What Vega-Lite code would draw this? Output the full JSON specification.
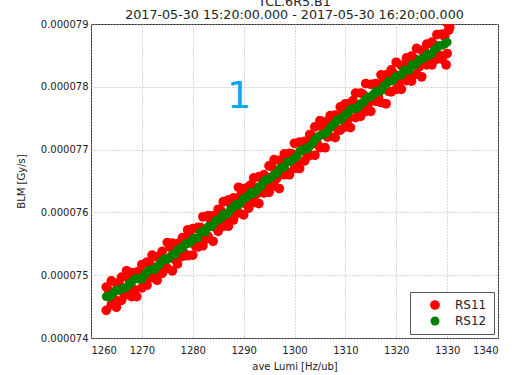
{
  "$schema": "https://vega.github.io/schema/vega-lite/v6.json",
  "autosize": "none",
  "width": 407,
  "height": 314,
  "padding": {"left": 91, "top": 24, "right": 14, "bottom": 37},
  "background": "white",
  "title": {
    "text": "TCL.6R5.B1",
    "subtitle": "2017-05-30 15:20:00.000 - 2017-05-30 16:20:00.000",
    "font": "DejaVu Sans",
    "subtitleFont": "DejaVu Sans",
    "fontSize": 12.7,
    "fontWeight": "normal",
    "subtitleFontSize": 12.7,
    "color": "#222",
    "subtitleColor": "#222",
    "subtitlePadding": 1,
    "offset": -3,
    "anchor": "middle",
    "frame": "group"
  },
  "config": {
    "view": {"stroke": "#222", "strokeWidth": 1},
    "axis": {
      "labelFont": "DejaVu Sans",
      "titleFont": "DejaVu Sans",
      "labelFontSize": 10,
      "titleFontSize": 10,
      "titleFontWeight": "normal",
      "labelColor": "#222",
      "titleColor": "#222",
      "grid": true,
      "gridColor": "#b0b0b0",
      "gridDash": [1, 2],
      "ticks": false,
      "domain": false,
      "labelPadding": 3
    }
  },
  "data": {
    "values": [
      {"lumi": 1263, "blm": 0.00007481, "series": "RS11"},
      {"lumi": 1263, "blm": 0.00007444, "series": "RS11"},
      {"lumi": 1264, "blm": 0.00007491, "series": "RS11"},
      {"lumi": 1264, "blm": 0.00007453, "series": "RS11"},
      {"lumi": 1265, "blm": 0.00007487, "series": "RS11"},
      {"lumi": 1265, "blm": 0.00007449, "series": "RS11"},
      {"lumi": 1266, "blm": 0.00007497, "series": "RS11"},
      {"lumi": 1266, "blm": 0.00007460, "series": "RS11"},
      {"lumi": 1267, "blm": 0.00007507, "series": "RS11"},
      {"lumi": 1267, "blm": 0.00007469, "series": "RS11"},
      {"lumi": 1268, "blm": 0.00007504, "series": "RS11"},
      {"lumi": 1268, "blm": 0.00007466, "series": "RS11"},
      {"lumi": 1269, "blm": 0.00007505, "series": "RS11"},
      {"lumi": 1269, "blm": 0.00007466, "series": "RS11"},
      {"lumi": 1270, "blm": 0.00007517, "series": "RS11"},
      {"lumi": 1270, "blm": 0.00007480, "series": "RS11"},
      {"lumi": 1271, "blm": 0.00007521, "series": "RS11"},
      {"lumi": 1271, "blm": 0.00007484, "series": "RS11"},
      {"lumi": 1272, "blm": 0.00007532, "series": "RS11"},
      {"lumi": 1272, "blm": 0.00007496, "series": "RS11"},
      {"lumi": 1273, "blm": 0.00007529, "series": "RS11"},
      {"lumi": 1273, "blm": 0.00007492, "series": "RS11"},
      {"lumi": 1274, "blm": 0.00007538, "series": "RS11"},
      {"lumi": 1274, "blm": 0.00007503, "series": "RS11"},
      {"lumi": 1275, "blm": 0.00007552, "series": "RS11"},
      {"lumi": 1275, "blm": 0.00007511, "series": "RS11"},
      {"lumi": 1276, "blm": 0.00007551, "series": "RS11"},
      {"lumi": 1276, "blm": 0.00007507, "series": "RS11"},
      {"lumi": 1277, "blm": 0.00007550, "series": "RS11"},
      {"lumi": 1277, "blm": 0.00007518, "series": "RS11"},
      {"lumi": 1278, "blm": 0.00007560, "series": "RS11"},
      {"lumi": 1278, "blm": 0.00007530, "series": "RS11"},
      {"lumi": 1279, "blm": 0.00007572, "series": "RS11"},
      {"lumi": 1279, "blm": 0.00007531, "series": "RS11"},
      {"lumi": 1280, "blm": 0.00007574, "series": "RS11"},
      {"lumi": 1280, "blm": 0.00007532, "series": "RS11"},
      {"lumi": 1281, "blm": 0.00007576, "series": "RS11"},
      {"lumi": 1281, "blm": 0.00007545, "series": "RS11"},
      {"lumi": 1282, "blm": 0.00007593, "series": "RS11"},
      {"lumi": 1282, "blm": 0.00007547, "series": "RS11"},
      {"lumi": 1283, "blm": 0.00007595, "series": "RS11"},
      {"lumi": 1283, "blm": 0.00007562, "series": "RS11"},
      {"lumi": 1284, "blm": 0.00007595, "series": "RS11"},
      {"lumi": 1284, "blm": 0.00007554, "series": "RS11"},
      {"lumi": 1285, "blm": 0.00007605, "series": "RS11"},
      {"lumi": 1285, "blm": 0.00007570, "series": "RS11"},
      {"lumi": 1286, "blm": 0.00007617, "series": "RS11"},
      {"lumi": 1286, "blm": 0.00007578, "series": "RS11"},
      {"lumi": 1287, "blm": 0.00007620, "series": "RS11"},
      {"lumi": 1287, "blm": 0.00007578, "series": "RS11"},
      {"lumi": 1288, "blm": 0.00007623, "series": "RS11"},
      {"lumi": 1288, "blm": 0.00007588, "series": "RS11"},
      {"lumi": 1289, "blm": 0.00007640, "series": "RS11"},
      {"lumi": 1289, "blm": 0.00007600, "series": "RS11"},
      {"lumi": 1290, "blm": 0.00007638, "series": "RS11"},
      {"lumi": 1290, "blm": 0.00007596, "series": "RS11"},
      {"lumi": 1291, "blm": 0.00007641, "series": "RS11"},
      {"lumi": 1291, "blm": 0.00007607, "series": "RS11"},
      {"lumi": 1292, "blm": 0.00007655, "series": "RS11"},
      {"lumi": 1292, "blm": 0.00007616, "series": "RS11"},
      {"lumi": 1293, "blm": 0.00007657, "series": "RS11"},
      {"lumi": 1293, "blm": 0.00007614, "series": "RS11"},
      {"lumi": 1294, "blm": 0.00007660, "series": "RS11"},
      {"lumi": 1294, "blm": 0.00007631, "series": "RS11"},
      {"lumi": 1295, "blm": 0.00007674, "series": "RS11"},
      {"lumi": 1295, "blm": 0.00007632, "series": "RS11"},
      {"lumi": 1296, "blm": 0.00007684, "series": "RS11"},
      {"lumi": 1296, "blm": 0.00007642, "series": "RS11"},
      {"lumi": 1297, "blm": 0.00007683, "series": "RS11"},
      {"lumi": 1297, "blm": 0.00007638, "series": "RS11"},
      {"lumi": 1298, "blm": 0.00007693, "series": "RS11"},
      {"lumi": 1298, "blm": 0.00007660, "series": "RS11"},
      {"lumi": 1299, "blm": 0.00007694, "series": "RS11"},
      {"lumi": 1299, "blm": 0.00007660, "series": "RS11"},
      {"lumi": 1300, "blm": 0.00007710, "series": "RS11"},
      {"lumi": 1300, "blm": 0.00007670, "series": "RS11"},
      {"lumi": 1301, "blm": 0.00007712, "series": "RS11"},
      {"lumi": 1301, "blm": 0.00007670, "series": "RS11"},
      {"lumi": 1302, "blm": 0.00007713, "series": "RS11"},
      {"lumi": 1302, "blm": 0.00007682, "series": "RS11"},
      {"lumi": 1303, "blm": 0.00007724, "series": "RS11"},
      {"lumi": 1303, "blm": 0.00007691, "series": "RS11"},
      {"lumi": 1304, "blm": 0.00007736, "series": "RS11"},
      {"lumi": 1304, "blm": 0.00007691, "series": "RS11"},
      {"lumi": 1305, "blm": 0.00007746, "series": "RS11"},
      {"lumi": 1305, "blm": 0.00007703, "series": "RS11"},
      {"lumi": 1306, "blm": 0.00007744, "series": "RS11"},
      {"lumi": 1306, "blm": 0.00007703, "series": "RS11"},
      {"lumi": 1307, "blm": 0.00007754, "series": "RS11"},
      {"lumi": 1307, "blm": 0.00007721, "series": "RS11"},
      {"lumi": 1308, "blm": 0.00007755, "series": "RS11"},
      {"lumi": 1308, "blm": 0.00007719, "series": "RS11"},
      {"lumi": 1309, "blm": 0.00007768, "series": "RS11"},
      {"lumi": 1309, "blm": 0.00007731, "series": "RS11"},
      {"lumi": 1310, "blm": 0.00007773, "series": "RS11"},
      {"lumi": 1310, "blm": 0.00007736, "series": "RS11"},
      {"lumi": 1311, "blm": 0.00007774, "series": "RS11"},
      {"lumi": 1311, "blm": 0.00007735, "series": "RS11"},
      {"lumi": 1312, "blm": 0.00007790, "series": "RS11"},
      {"lumi": 1312, "blm": 0.00007751, "series": "RS11"},
      {"lumi": 1313, "blm": 0.00007790, "series": "RS11"},
      {"lumi": 1313, "blm": 0.00007753, "series": "RS11"},
      {"lumi": 1314, "blm": 0.00007805, "series": "RS11"},
      {"lumi": 1314, "blm": 0.00007761, "series": "RS11"},
      {"lumi": 1315, "blm": 0.00007804, "series": "RS11"},
      {"lumi": 1315, "blm": 0.00007761, "series": "RS11"},
      {"lumi": 1316, "blm": 0.00007805, "series": "RS11"},
      {"lumi": 1316, "blm": 0.00007777, "series": "RS11"},
      {"lumi": 1317, "blm": 0.00007819, "series": "RS11"},
      {"lumi": 1317, "blm": 0.00007775, "series": "RS11"},
      {"lumi": 1318, "blm": 0.00007819, "series": "RS11"},
      {"lumi": 1318, "blm": 0.00007773, "series": "RS11"},
      {"lumi": 1319, "blm": 0.00007827, "series": "RS11"},
      {"lumi": 1319, "blm": 0.00007792, "series": "RS11"},
      {"lumi": 1320, "blm": 0.00007839, "series": "RS11"},
      {"lumi": 1320, "blm": 0.00007796, "series": "RS11"},
      {"lumi": 1321, "blm": 0.00007834, "series": "RS11"},
      {"lumi": 1321, "blm": 0.00007796, "series": "RS11"},
      {"lumi": 1322, "blm": 0.00007846, "series": "RS11"},
      {"lumi": 1322, "blm": 0.00007810, "series": "RS11"},
      {"lumi": 1323, "blm": 0.00007849, "series": "RS11"},
      {"lumi": 1323, "blm": 0.00007809, "series": "RS11"},
      {"lumi": 1324, "blm": 0.00007861, "series": "RS11"},
      {"lumi": 1324, "blm": 0.00007820, "series": "RS11"},
      {"lumi": 1325, "blm": 0.00007858, "series": "RS11"},
      {"lumi": 1325, "blm": 0.00007816, "series": "RS11"},
      {"lumi": 1326, "blm": 0.00007868, "series": "RS11"},
      {"lumi": 1326, "blm": 0.00007835, "series": "RS11"},
      {"lumi": 1327, "blm": 0.00007871, "series": "RS11"},
      {"lumi": 1327, "blm": 0.00007835, "series": "RS11"},
      {"lumi": 1328, "blm": 0.00007883, "series": "RS11"},
      {"lumi": 1328, "blm": 0.00007844, "series": "RS11"},
      {"lumi": 1329, "blm": 0.00007884, "series": "RS11"},
      {"lumi": 1329, "blm": 0.00007844, "series": "RS11"},
      {"lumi": 1330, "blm": 0.00007902, "series": "RS11"},
      {"lumi": 1330, "blm": 0.00007853, "series": "RS11"},
      {"lumi": 1330.3, "blm": 0.00007890, "series": "RS11"},
      {"lumi": 1330.5, "blm": 0.00007895, "series": "RS11"},
      {"lumi": 1329.8, "blm": 0.00007835, "series": "RS11"},
      {"lumi": 1263.5, "blm": 0.00007476, "series": "RS11"},
      {"lumi": 1264.5, "blm": 0.00007462, "series": "RS11"},
      {"lumi": 1265.5, "blm": 0.00007488, "series": "RS11"},
      {"lumi": 1266.5, "blm": 0.00007470, "series": "RS11"},
      {"lumi": 1267.5, "blm": 0.00007493, "series": "RS11"},
      {"lumi": 1268.5, "blm": 0.00007477, "series": "RS11"},
      {"lumi": 1269.5, "blm": 0.00007506, "series": "RS11"},
      {"lumi": 1270.5, "blm": 0.00007490, "series": "RS11"},
      {"lumi": 1271.5, "blm": 0.00007520, "series": "RS11"},
      {"lumi": 1272.5, "blm": 0.00007504, "series": "RS11"},
      {"lumi": 1273.5, "blm": 0.00007530, "series": "RS11"},
      {"lumi": 1274.5, "blm": 0.00007515, "series": "RS11"},
      {"lumi": 1275.5, "blm": 0.00007545, "series": "RS11"},
      {"lumi": 1276.5, "blm": 0.00007525, "series": "RS11"},
      {"lumi": 1277.5, "blm": 0.00007552, "series": "RS11"},
      {"lumi": 1278.5, "blm": 0.00007534, "series": "RS11"},
      {"lumi": 1279.5, "blm": 0.00007562, "series": "RS11"},
      {"lumi": 1280.5, "blm": 0.00007547, "series": "RS11"},
      {"lumi": 1281.5, "blm": 0.00007576, "series": "RS11"},
      {"lumi": 1282.5, "blm": 0.00007557, "series": "RS11"},
      {"lumi": 1283.5, "blm": 0.00007588, "series": "RS11"},
      {"lumi": 1284.5, "blm": 0.00007576, "series": "RS11"},
      {"lumi": 1285.5, "blm": 0.00007603, "series": "RS11"},
      {"lumi": 1286.5, "blm": 0.00007587, "series": "RS11"},
      {"lumi": 1287.5, "blm": 0.00007612, "series": "RS11"},
      {"lumi": 1288.5, "blm": 0.00007597, "series": "RS11"},
      {"lumi": 1289.5, "blm": 0.00007628, "series": "RS11"},
      {"lumi": 1290.5, "blm": 0.00007613, "series": "RS11"},
      {"lumi": 1291.5, "blm": 0.00007644, "series": "RS11"},
      {"lumi": 1292.5, "blm": 0.00007629, "series": "RS11"},
      {"lumi": 1293.5, "blm": 0.00007655, "series": "RS11"},
      {"lumi": 1294.5, "blm": 0.00007641, "series": "RS11"},
      {"lumi": 1295.5, "blm": 0.00007673, "series": "RS11"},
      {"lumi": 1296.5, "blm": 0.00007654, "series": "RS11"},
      {"lumi": 1297.5, "blm": 0.00007681, "series": "RS11"},
      {"lumi": 1298.5, "blm": 0.00007664, "series": "RS11"},
      {"lumi": 1299.5, "blm": 0.00007693, "series": "RS11"},
      {"lumi": 1300.5, "blm": 0.00007678, "series": "RS11"},
      {"lumi": 1301.5, "blm": 0.00007707, "series": "RS11"},
      {"lumi": 1302.5, "blm": 0.00007689, "series": "RS11"},
      {"lumi": 1303.5, "blm": 0.00007721, "series": "RS11"},
      {"lumi": 1304.5, "blm": 0.00007709, "series": "RS11"},
      {"lumi": 1305.5, "blm": 0.00007736, "series": "RS11"},
      {"lumi": 1306.5, "blm": 0.00007720, "series": "RS11"},
      {"lumi": 1307.5, "blm": 0.00007746, "series": "RS11"},
      {"lumi": 1308.5, "blm": 0.00007732, "series": "RS11"},
      {"lumi": 1309.5, "blm": 0.00007763, "series": "RS11"},
      {"lumi": 1310.5, "blm": 0.00007748, "series": "RS11"},
      {"lumi": 1311.5, "blm": 0.00007778, "series": "RS11"},
      {"lumi": 1312.5, "blm": 0.00007762, "series": "RS11"},
      {"lumi": 1313.5, "blm": 0.00007788, "series": "RS11"},
      {"lumi": 1314.5, "blm": 0.00007773, "series": "RS11"},
      {"lumi": 1315.5, "blm": 0.00007804, "series": "RS11"},
      {"lumi": 1316.5, "blm": 0.00007784, "series": "RS11"},
      {"lumi": 1317.5, "blm": 0.00007811, "series": "RS11"},
      {"lumi": 1318.5, "blm": 0.00007793, "series": "RS11"},
      {"lumi": 1319.5, "blm": 0.00007821, "series": "RS11"},
      {"lumi": 1320.5, "blm": 0.00007806, "series": "RS11"},
      {"lumi": 1321.5, "blm": 0.00007834, "series": "RS11"},
      {"lumi": 1322.5, "blm": 0.00007814, "series": "RS11"},
      {"lumi": 1323.5, "blm": 0.00007845, "series": "RS11"},
      {"lumi": 1324.5, "blm": 0.00007832, "series": "RS11"},
      {"lumi": 1325.5, "blm": 0.00007858, "series": "RS11"},
      {"lumi": 1326.5, "blm": 0.00007841, "series": "RS11"},
      {"lumi": 1327.5, "blm": 0.00007866, "series": "RS11"},
      {"lumi": 1328.5, "blm": 0.00007850, "series": "RS11"},
      {"lumi": 1329.5, "blm": 0.00007880, "series": "RS11"},
      {"lumi": 1263, "blm": 0.00007466, "series": "RS12"},
      {"lumi": 1264, "blm": 0.00007468, "series": "RS12"},
      {"lumi": 1265, "blm": 0.00007476, "series": "RS12"},
      {"lumi": 1266, "blm": 0.00007478, "series": "RS12"},
      {"lumi": 1267, "blm": 0.00007481, "series": "RS12"},
      {"lumi": 1268, "blm": 0.00007489, "series": "RS12"},
      {"lumi": 1269, "blm": 0.00007495, "series": "RS12"},
      {"lumi": 1270, "blm": 0.00007494, "series": "RS12"},
      {"lumi": 1271, "blm": 0.00007505, "series": "RS12"},
      {"lumi": 1272, "blm": 0.00007509, "series": "RS12"},
      {"lumi": 1273, "blm": 0.00007514, "series": "RS12"},
      {"lumi": 1274, "blm": 0.00007523, "series": "RS12"},
      {"lumi": 1275, "blm": 0.00007525, "series": "RS12"},
      {"lumi": 1276, "blm": 0.00007533, "series": "RS12"},
      {"lumi": 1277, "blm": 0.00007541, "series": "RS12"},
      {"lumi": 1278, "blm": 0.00007543, "series": "RS12"},
      {"lumi": 1279, "blm": 0.00007550, "series": "RS12"},
      {"lumi": 1280, "blm": 0.00007558, "series": "RS12"},
      {"lumi": 1281, "blm": 0.00007559, "series": "RS12"},
      {"lumi": 1282, "blm": 0.00007570, "series": "RS12"},
      {"lumi": 1283, "blm": 0.00007577, "series": "RS12"},
      {"lumi": 1284, "blm": 0.00007580, "series": "RS12"},
      {"lumi": 1285, "blm": 0.00007588, "series": "RS12"},
      {"lumi": 1286, "blm": 0.00007597, "series": "RS12"},
      {"lumi": 1287, "blm": 0.00007600, "series": "RS12"},
      {"lumi": 1288, "blm": 0.00007608, "series": "RS12"},
      {"lumi": 1289, "blm": 0.00007612, "series": "RS12"},
      {"lumi": 1290, "blm": 0.00007622, "series": "RS12"},
      {"lumi": 1291, "blm": 0.00007627, "series": "RS12"},
      {"lumi": 1292, "blm": 0.00007630, "series": "RS12"},
      {"lumi": 1293, "blm": 0.00007641, "series": "RS12"},
      {"lumi": 1294, "blm": 0.00007650, "series": "RS12"},
      {"lumi": 1295, "blm": 0.00007653, "series": "RS12"},
      {"lumi": 1296, "blm": 0.00007660, "series": "RS12"},
      {"lumi": 1297, "blm": 0.00007669, "series": "RS12"},
      {"lumi": 1298, "blm": 0.00007672, "series": "RS12"},
      {"lumi": 1299, "blm": 0.00007681, "series": "RS12"},
      {"lumi": 1300, "blm": 0.00007686, "series": "RS12"},
      {"lumi": 1301, "blm": 0.00007697, "series": "RS12"},
      {"lumi": 1302, "blm": 0.00007701, "series": "RS12"},
      {"lumi": 1303, "blm": 0.00007705, "series": "RS12"},
      {"lumi": 1304, "blm": 0.00007716, "series": "RS12"},
      {"lumi": 1305, "blm": 0.00007722, "series": "RS12"},
      {"lumi": 1306, "blm": 0.00007725, "series": "RS12"},
      {"lumi": 1307, "blm": 0.00007735, "series": "RS12"},
      {"lumi": 1308, "blm": 0.00007743, "series": "RS12"},
      {"lumi": 1309, "blm": 0.00007747, "series": "RS12"},
      {"lumi": 1310, "blm": 0.00007756, "series": "RS12"},
      {"lumi": 1311, "blm": 0.00007764, "series": "RS12"},
      {"lumi": 1312, "blm": 0.00007765, "series": "RS12"},
      {"lumi": 1313, "blm": 0.00007773, "series": "RS12"},
      {"lumi": 1314, "blm": 0.00007780, "series": "RS12"},
      {"lumi": 1315, "blm": 0.00007784, "series": "RS12"},
      {"lumi": 1316, "blm": 0.00007793, "series": "RS12"},
      {"lumi": 1317, "blm": 0.00007794, "series": "RS12"},
      {"lumi": 1318, "blm": 0.00007804, "series": "RS12"},
      {"lumi": 1319, "blm": 0.00007809, "series": "RS12"},
      {"lumi": 1320, "blm": 0.00007817, "series": "RS12"},
      {"lumi": 1321, "blm": 0.00007819, "series": "RS12"},
      {"lumi": 1322, "blm": 0.00007827, "series": "RS12"},
      {"lumi": 1323, "blm": 0.00007835, "series": "RS12"},
      {"lumi": 1324, "blm": 0.00007837, "series": "RS12"},
      {"lumi": 1325, "blm": 0.00007844, "series": "RS12"},
      {"lumi": 1326, "blm": 0.00007851, "series": "RS12"},
      {"lumi": 1327, "blm": 0.00007853, "series": "RS12"},
      {"lumi": 1328, "blm": 0.00007862, "series": "RS12"},
      {"lumi": 1329, "blm": 0.00007866, "series": "RS12"},
      {"lumi": 1330, "blm": 0.00007871, "series": "RS12"},
      {"lumi": 1263.5, "blm": 0.00007465, "series": "RS12"},
      {"lumi": 1264.5, "blm": 0.00007473, "series": "RS12"},
      {"lumi": 1265.5, "blm": 0.00007476, "series": "RS12"},
      {"lumi": 1266.5, "blm": 0.00007479, "series": "RS12"},
      {"lumi": 1267.5, "blm": 0.00007486, "series": "RS12"},
      {"lumi": 1268.5, "blm": 0.00007493, "series": "RS12"},
      {"lumi": 1269.5, "blm": 0.00007494, "series": "RS12"},
      {"lumi": 1270.5, "blm": 0.00007500, "series": "RS12"},
      {"lumi": 1271.5, "blm": 0.00007508, "series": "RS12"},
      {"lumi": 1272.5, "blm": 0.00007509, "series": "RS12"},
      {"lumi": 1273.5, "blm": 0.00007517, "series": "RS12"},
      {"lumi": 1274.5, "blm": 0.00007526, "series": "RS12"},
      {"lumi": 1275.5, "blm": 0.00007529, "series": "RS12"},
      {"lumi": 1276.5, "blm": 0.00007533, "series": "RS12"},
      {"lumi": 1277.5, "blm": 0.00007542, "series": "RS12"},
      {"lumi": 1278.5, "blm": 0.00007550, "series": "RS12"},
      {"lumi": 1279.5, "blm": 0.00007552, "series": "RS12"},
      {"lumi": 1280.5, "blm": 0.00007559, "series": "RS12"},
      {"lumi": 1281.5, "blm": 0.00007568, "series": "RS12"},
      {"lumi": 1282.5, "blm": 0.00007569, "series": "RS12"},
      {"lumi": 1283.5, "blm": 0.00007577, "series": "RS12"},
      {"lumi": 1284.5, "blm": 0.00007587, "series": "RS12"},
      {"lumi": 1285.5, "blm": 0.00007591, "series": "RS12"},
      {"lumi": 1286.5, "blm": 0.00007596, "series": "RS12"},
      {"lumi": 1287.5, "blm": 0.00007605, "series": "RS12"},
      {"lumi": 1288.5, "blm": 0.00007613, "series": "RS12"},
      {"lumi": 1289.5, "blm": 0.00007616, "series": "RS12"},
      {"lumi": 1290.5, "blm": 0.00007623, "series": "RS12"},
      {"lumi": 1291.5, "blm": 0.00007632, "series": "RS12"},
      {"lumi": 1292.5, "blm": 0.00007634, "series": "RS12"},
      {"lumi": 1293.5, "blm": 0.00007642, "series": "RS12"},
      {"lumi": 1294.5, "blm": 0.00007652, "series": "RS12"},
      {"lumi": 1295.5, "blm": 0.00007657, "series": "RS12"},
      {"lumi": 1296.5, "blm": 0.00007662, "series": "RS12"},
      {"lumi": 1297.5, "blm": 0.00007671, "series": "RS12"},
      {"lumi": 1298.5, "blm": 0.00007680, "series": "RS12"},
      {"lumi": 1299.5, "blm": 0.00007683, "series": "RS12"},
      {"lumi": 1300.5, "blm": 0.00007690, "series": "RS12"},
      {"lumi": 1301.5, "blm": 0.00007699, "series": "RS12"},
      {"lumi": 1302.5, "blm": 0.00007701, "series": "RS12"},
      {"lumi": 1303.5, "blm": 0.00007710, "series": "RS12"},
      {"lumi": 1304.5, "blm": 0.00007720, "series": "RS12"},
      {"lumi": 1305.5, "blm": 0.00007724, "series": "RS12"},
      {"lumi": 1306.5, "blm": 0.00007729, "series": "RS12"},
      {"lumi": 1307.5, "blm": 0.00007739, "series": "RS12"},
      {"lumi": 1308.5, "blm": 0.00007748, "series": "RS12"},
      {"lumi": 1309.5, "blm": 0.00007751, "series": "RS12"},
      {"lumi": 1310.5, "blm": 0.00007758, "series": "RS12"},
      {"lumi": 1311.5, "blm": 0.00007766, "series": "RS12"},
      {"lumi": 1312.5, "blm": 0.00007767, "series": "RS12"},
      {"lumi": 1313.5, "blm": 0.00007775, "series": "RS12"},
      {"lumi": 1314.5, "blm": 0.00007784, "series": "RS12"},
      {"lumi": 1315.5, "blm": 0.00007788, "series": "RS12"},
      {"lumi": 1316.5, "blm": 0.00007792, "series": "RS12"},
      {"lumi": 1317.5, "blm": 0.00007801, "series": "RS12"},
      {"lumi": 1318.5, "blm": 0.00007809, "series": "RS12"},
      {"lumi": 1319.5, "blm": 0.00007811, "series": "RS12"},
      {"lumi": 1320.5, "blm": 0.00007818, "series": "RS12"},
      {"lumi": 1321.5, "blm": 0.00007826, "series": "RS12"},
      {"lumi": 1322.5, "blm": 0.00007826, "series": "RS12"},
      {"lumi": 1323.5, "blm": 0.00007834, "series": "RS12"},
      {"lumi": 1324.5, "blm": 0.00007843, "series": "RS12"},
      {"lumi": 1325.5, "blm": 0.00007846, "series": "RS12"},
      {"lumi": 1326.5, "blm": 0.00007850, "series": "RS12"},
      {"lumi": 1327.5, "blm": 0.00007859, "series": "RS12"},
      {"lumi": 1328.5, "blm": 0.00007866, "series": "RS12"},
      {"lumi": 1329.5, "blm": 0.00007868, "series": "RS12"}
    ]
  },
  "layer": [
    {
      "mark": {"type": "point", "filled": true, "opacity": 1, "clip": true},
      "encoding": {
        "x": {
          "field": "lumi", "type": "quantitative",
          "scale": {"domain": [1260, 1340], "nice": false, "zero": false},
          "axis": {"title": "ave Lumi [Hz/ub]", "values": [1260, 1270, 1280, 1290, 1300, 1310, 1320, 1330, 1340], "format": "d", "labelPadding": 7, "titlePadding": 6}
        },
        "y": {
          "field": "blm", "type": "quantitative",
          "scale": {"domain": [0.000074, 0.000079], "nice": false, "zero": false},
          "axis": {"title": "BLM [Gy/s]", "values": [0.000074, 0.000075, 0.000076, 0.000077, 0.000078, 0.000079], "format": ".6f", "titlePadding": 14}
        },
        "size": {
          "field": "series", "type": "nominal",
          "scale": {"domain": ["RS11", "RS12"], "range": [95, 80]},
          "legend": null
        },
        "color": {
          "field": "series", "type": "nominal",
          "scale": {"domain": ["RS11", "RS12"], "range": ["#ff0000", "#008000"]},
          "legend": {
            "title": null,
            "orient": "none",
            "legendX": 319,
            "legendY": 268,
            "strokeColor": "#555",
            "fillColor": "white",
            "padding": 7,
            "symbolSize": 40,
            "symbolOffset": 12,
            "labelOffset": 14,
            "labelFont": "DejaVu Sans",
            "labelFontSize": 12,
            "labelColor": "#222",
            "rowPadding": 4
          }
        }
      }
    },
    {
      "data": {"values": [{"lumi": 1289.1, "blm": 0.00007783, "label": "1"}]},
      "mark": {"type": "text", "fontSize": 38, "font": "DejaVu Sans", "color": "#08a8f0", "baseline": "middle", "align": "center"},
      "encoding": {
        "x": {"field": "lumi", "type": "quantitative"},
        "y": {"field": "blm", "type": "quantitative"},
        "text": {"field": "label"}
      }
    }
  ]
}
